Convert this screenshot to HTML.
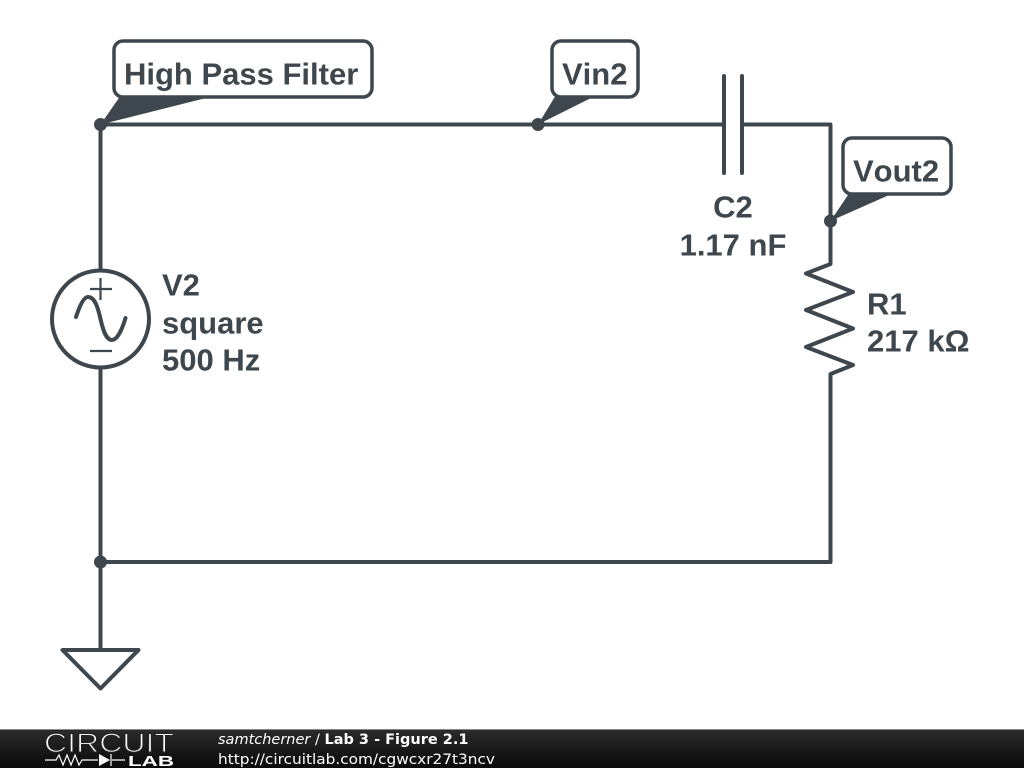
<!DOCTYPE html>
<html>
<head>
<meta charset="utf-8">
<style>
html,body{margin:0;padding:0;background:#fff;width:1024px;height:768px;overflow:hidden}
svg{display:block}
.l{font-family:"Liberation Sans",sans-serif;font-weight:bold;font-size:31px;fill:#3d474d;font-kerning:none}
.f{font-family:"DejaVu Sans",sans-serif;font-size:14.5px;fill:#fff}
</style>
</head>
<body>
<svg width="1024" height="768" viewBox="0 0 1024 768" xmlns="http://www.w3.org/2000/svg">
<defs>
<linearGradient id="g" x1="0" y1="0" x2="0" y2="1">
<stop offset="0" stop-color="#2c2c2c"/><stop offset="0.5" stop-color="#1a1a1a"/><stop offset="1" stop-color="#0a0a0a"/>
</linearGradient>
</defs>
<rect width="1024" height="768" fill="#fff"/>
<g fill="none" stroke="#3d474d" stroke-width="4" stroke-linecap="round" stroke-linejoin="round">
<!-- wires -->
<path d="M100.5 124.5H724M742 124.5H830.5V264L806 273.5L853 292L806 310L853 328.5L806 347L853 365L830.5 374V562H100.5V650"/>
<path d="M100.5 124.5V270M100.5 368V562"/>
<!-- capacitor -->
<path d="M724 76V173M742 76V173"/>
<!-- source -->
<circle cx="100.5" cy="319" r="48.5"/>
<path d="M76 317C80 305 84 297 88 297C95 297 98 308 100.5 319C103 330 106 340 112 340C117 340 122 330 125.5 318"/>
<!-- ground -->
<path d="M62.5 650H138.5L100.5 688.5Z"/>
</g>
<path d="M90 289H112M100.5 278V300M90 351H112" fill="none" stroke="#3d474d" stroke-width="2.2"/>
<!-- junctions -->
<g fill="#3d474d">
<circle cx="100.5" cy="124.5" r="6.5"/>
<circle cx="538" cy="124.5" r="6.5"/>
<circle cx="830.5" cy="221" r="6.5"/>
<circle cx="100.5" cy="562" r="6.5"/>
<path d="M121 95L100.5 124.5L218 95Z"/>
<path d="M556 95L538 124.5L597 95Z"/>
<path d="M850 192L830.5 221L896 192Z"/>
</g>
<!-- callouts -->
<g fill="#fff" stroke="#3d474d" stroke-width="3.5">
<rect x="114" y="41" width="258" height="56" rx="9"/>
<rect x="552" y="41" width="86" height="56" rx="9"/>
<rect x="843" y="138" width="108" height="56" rx="9"/>
</g>
<text class="l" x="124" y="84.5">High Pass Filter</text>
<text class="l" x="562" y="84.5">Vin2</text>
<text class="l" x="853" y="181.5">Vout2</text>
<text class="l" x="733" y="217.5" text-anchor="middle">C2</text>
<text class="l" x="733" y="255.5" text-anchor="middle">1.17 nF</text>
<text class="l" x="162" y="295.5">V2</text>
<text class="l" x="162" y="333.5">square</text>
<text class="l" x="162" y="370.5">500 Hz</text>
<text class="l" x="867" y="314.5">R1</text>
<text class="l" x="867" y="351.5">217 kΩ</text>
<!-- footer -->
<rect x="0" y="729" width="1024" height="39" fill="url(#g)"/>
<rect x="0" y="729" width="1024" height="1" fill="#888"/>
<text x="44" y="752" font-family="Liberation Sans, sans-serif" font-size="27" fill="#fff" stroke="#222" stroke-width="1.1" textLength="130" lengthAdjust="spacingAndGlyphs">CIRCUIT</text>
<text x="128" y="766" font-family="Liberation Sans, sans-serif" font-weight="bold" font-size="15" fill="#fff" textLength="46" lengthAdjust="spacingAndGlyphs">LAB</text>
<path d="M45 760H56L59 755L63 765L67 755L71 765L75 755L79 765L82 760H98M125 760H112M111 754V766" fill="none" stroke="#fff" stroke-width="1.2"/>
<path d="M99 754L110 760L99 766Z" fill="#fff"/>
<text class="f" x="218" y="744"><tspan font-style="italic">samtcherner</tspan> / <tspan font-weight="bold">Lab 3 - Figure 2.1</tspan></text>
<text class="f" x="218" y="764" textLength="277" lengthAdjust="spacingAndGlyphs">http://circuitlab.com/cgwcxr27t3ncv</text>
</svg>
</body>
</html>
